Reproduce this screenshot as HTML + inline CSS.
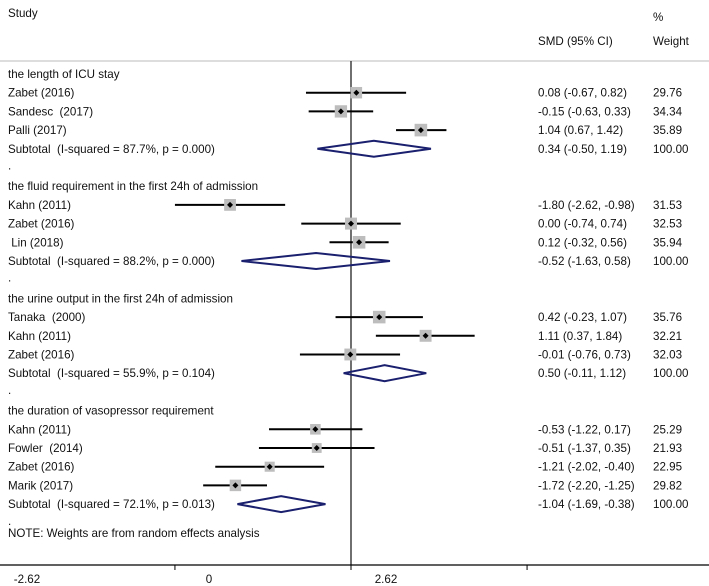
<!DOCTYPE html>
<html><head><meta charset="utf-8"><style>
body{margin:0;background:#fff}
svg{display:block;font-family:"Liberation Sans",Arial,sans-serif;font-size:11.6px;fill:#111}
svg text{white-space:pre}
</style></head><body>
<svg id="plot" width="709" height="586" viewBox="0 0 709 586"></svg>
<script>
const studies=["Zabet (2016)","Sandesc  (2017)","Palli (2017)","Kahn (2011)","Zabet (2016)"," Lin (2018)","Tanaka  (2000)","Kahn (2011)","Zabet (2016)","Kahn (2011)","Fowler  (2014)","Zabet (2016)","Marik (2017)"];
const groupOf=[0,0,0,1,1,1,2,2,2,3,3,3,3];
const est=[0.08,-0.15,1.04,-1.80,0.00,0.12,0.42,1.11,-0.01,-0.53,-0.51,-1.21,-1.72];
const lo=[-0.67,-0.63,0.67,-2.62,-0.74,-0.32,-0.23,0.37,-0.76,-1.22,-1.37,-2.02,-2.20];
const hi=[0.82,0.33,1.42,-0.98,0.74,0.56,1.07,1.84,0.73,0.17,0.35,-0.40,-1.25];
const weights=["29.76","34.34","35.89","31.53","32.53","35.94","35.76","32.21","32.03","25.29","21.93","22.95","29.82"];
const groups=["the length of ICU stay","the fluid requirement in the first 24h of admission","the urine output in the first 24h of admission","the duration of vasopressor requirement"];
const subLabels=["Subtotal  (I-squared = 87.7%, p = 0.000)","Subtotal  (I-squared = 88.2%, p = 0.000)","Subtotal  (I-squared = 55.9%, p = 0.104)","Subtotal  (I-squared = 72.1%, p = 0.013)"];
const subEst=[0.34,-0.52,0.50,-1.04];
const subLo=[-0.50,-1.63,-0.11,-1.69];
const subHi=[1.19,0.58,1.12,-0.38];
const tickVals=[-2.62,0,2.62,5.24];
const tickLabels=["-2.62","0","2.62",""];

const NS="http://www.w3.org/2000/svg";
const svg=document.getElementById('plot');
const X0=351,PX=67.2,WX=653;
function xs(v){return X0+v*PX;}
function rowY(i){return 74+i*18.7;}
function fmt(v){return v.toFixed(2);}
function mk(tag,attrs,txt){const e=document.createElementNS(NS,tag);for(const k in attrs)e.setAttribute(k,attrs[k]);if(txt!==undefined)e.textContent=txt;svg.appendChild(e);return e;}
function txt(x,y,s,name){const t=mk('text',{x:x,y:y},s);


return t;}

txt(8,17,"Study","study-header");
txt(538,45,"SMD (95% CI)","smd-header");
txt(WX,21,"%","percent-header");
txt(WX,45,"Weight","weight-header");
let hl=mk('line',{x1:0,y1:61,x2:709,y2:61,stroke:'#bbb','stroke-width':1});



let nl=mk('line',{x1:X0,y1:61,x2:X0,y2:565,stroke:'#222','stroke-width':1.3});



let row=0;
for(let g=0;g<groups.length;g++){
  txt(8,rowY(row)+4,groups[g],"group-title");
  row++;
  for(let i=0;i<studies.length;i++){
    if(groupOf[i]!==g)continue;
    const y=rowY(row);
    txt(8,y+4,studies[i],"study-label");
    let ci=mk('line',{x1:xs(lo[i]),y1:y,x2:xs(hi[i]),y2:y,stroke:'#000','stroke-width':2});
    
    
    const s=2.1*Math.sqrt(parseFloat(weights[i]));
    let b=mk('rect',{x:xs(est[i])-s/2,y:y-s/2,width:s,height:s,fill:'#bdbdbd'});
    
    
    let d=mk('path',{d:`M${xs(est[i])-3},${y} L${xs(est[i])},${y-3} L${xs(est[i])+3},${y} L${xs(est[i])},${y+3}Z`,fill:'#000'});
    
    
    txt(538,y+4,`${fmt(est[i])} (${fmt(lo[i])}, ${fmt(hi[i])})`,"ci-text");
    txt(WX,y+4,weights[i],"weight-text");
    row++;
  }
  const y=rowY(row);
  txt(8,y+4,subLabels[g],"subtotal-label");
  let dm=mk('path',{d:`M${xs(subLo[g])},${y} L${xs(subEst[g])},${y-8} L${xs(subHi[g])},${y} L${xs(subEst[g])},${y+8}Z`,fill:'none',stroke:'#1a1f6e','stroke-width':2});
  
  
  txt(538,y+4,`${fmt(subEst[g])} (${fmt(subLo[g])}, ${fmt(subHi[g])})`,"subtotal-ci-text");
  txt(WX,y+4,"100.00","subtotal-weight");
  row++;
  txt(8,rowY(row)+2,".","spacer-dot");
  row++;
}
txt(8,537,"NOTE: Weights are from random effects analysis","note");

let ax=mk('line',{x1:0,y1:565,x2:709,y2:565,stroke:'#000','stroke-width':1.3});


for(let k=0;k<tickVals.length;k++){
  const x=xs(tickVals[k]-2.62);
  let t=mk('line',{x1:x,y1:565,x2:x,y2:570,stroke:'#000','stroke-width':1});
  
  
  if(tickLabels[k]){
    const lx=[27,209,386][k];
    const tl=txt(lx,583,tickLabels[k],"x-tick-label");
    tl.setAttribute('text-anchor','middle');
  }
}
</script>
</body></html>
